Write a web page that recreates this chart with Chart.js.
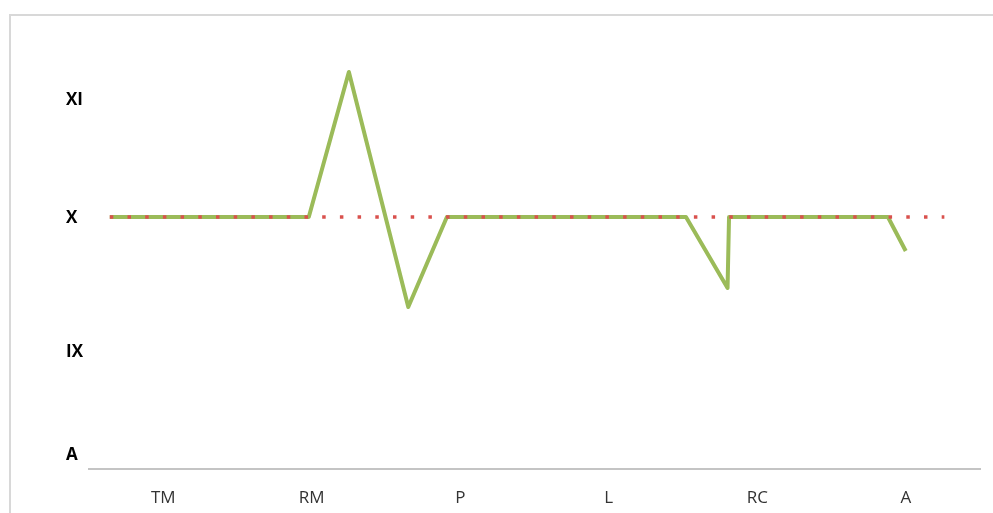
<!DOCTYPE html>
<html>
<head>
<meta charset="utf-8">
<script src="https://cdn.jsdelivr.net/npm/chart.js@4"></script>
<style>
    html, body { margin: 0; padding: 0; background: #fff; }
    .wrap { position: relative; width: 993px; height: 513px; }
    .frame {
        position: absolute; left: 9px; top: 14px; right: 0; bottom: 0;
        border-left: 2px solid #d8d8d8; border-top: 2px solid #d8d8d8;
    }
    canvas { position: absolute; left: 0; top: 0; }
</style>
</head>
<body>
<div class="wrap">
    <div class="frame"></div>
    <canvas id="gradeChart" width="993" height="513"></canvas>
</div>
<script>
// categories along the bottom
const categories = ['TM', 'RM', 'P', 'L', 'RC', 'A'];

// level labels on the left and where they sit on the value scale
const levelLabels = ['A', 'IX', 'X', 'XI'];
const levelValues = [1.4, 11.7, 25.1, 36.9];

// green series: positions in category units and values
const gradeX = [0.14, 1.48, 1.75, 2.15, 2.41, 4.02, 4.30, 4.31, 5.38, 5.50];
const gradeY = [25.2, 25.2, 39.7, 16.2, 25.2, 25.2, 18.1, 25.2, 25.2, 21.8];

// red dotted reference level
const targetX = [0.14, 5.76];
const targetY = [25.2, 25.2];

document.addEventListener('DOMContentLoaded', () => {
    const ctx = document.getElementById('gradeChart').getContext('2d');

    const toPoints = (xs, ys) => xs.map((x, i) => ({ x: x, y: ys[i] }));

    new Chart(ctx, {
        type: 'line',
        data: {
            datasets: [
                {
                    data: toPoints(targetX, targetY),
                    borderColor: '#d9514d',
                    borderWidth: 3.5,
                    borderDash: [3.5, 14.2],
                    pointRadius: 0,
                    fill: false
                },
                {
                    data: toPoints(gradeX, gradeY),
                    borderColor: '#9bbb59',
                    borderWidth: 4,
                    borderJoinStyle: 'round',
                    borderCapStyle: 'butt',
                    pointRadius: 0,
                    tension: 0,
                    fill: false
                }
            ]
        },
        options: {
            responsive: false,
            animation: false,
            layout: {
                padding: { left: 66, right: 13, top: 14, bottom: 0 }
            },
            plugins: {
                legend: { display: false },
                tooltip: { enabled: false }
            },
            scales: {
                x: {
                    type: 'linear',
                    min: 0,
                    max: 6,
                    grid: { display: false, drawTicks: false },
                    border: { display: true, color: '#c4c4c4', width: 2 },
                    afterBuildTicks: (scale) => {
                        scale.ticks = categories.map((c, i) => ({ value: i + 0.5 }));
                    },
                    afterFit: (scale) => { scale.height = 44; },
                    ticks: {
                        padding: 19,
                        autoSkip: false,
                        maxRotation: 0,
                        color: '#333',
                        font: { family: 'Open Sans', size: 17 },
                        callback: (value) => categories[Math.round(value - 0.5)]
                    }
                },
                y: {
                    type: 'linear',
                    min: 0,
                    max: 45.5,
                    grid: { display: false, drawTicks: false },
                    border: { display: false },
                    afterBuildTicks: (scale) => {
                        scale.ticks = levelValues.map(v => ({ value: v }));
                    },
                    afterFit: (scale) => { scale.width = 23; },
                    ticks: {
                        crossAlign: 'far',
                        autoSkip: false,
                        color: '#000',
                        font: { family: 'Open Sans', size: 17, weight: 'bold' },
                        callback: (value) => levelLabels[levelValues.indexOf(value)]
                    }
                }
            }
        }
    });
});
</script>
</body>
</html>
